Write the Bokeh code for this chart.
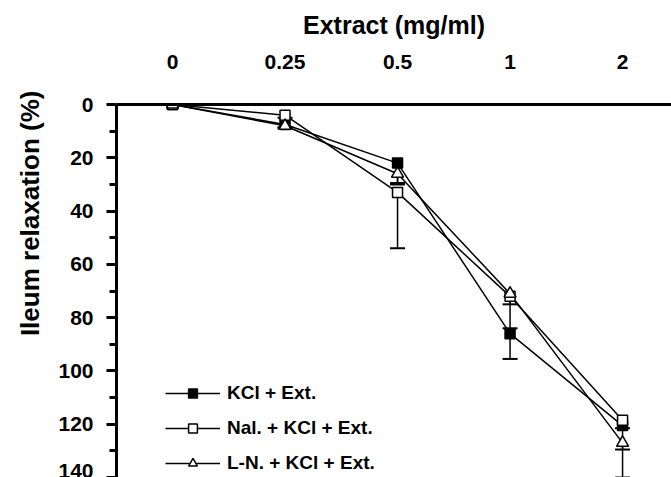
from bokeh.plotting import figure
from bokeh.models import (Range1d, FixedTicker, ColumnDataSource, Whisker, TeeHead,
                          Legend, LegendItem, Title)
from bokeh.embed import file_html
from bokeh.resources import INLINE

# ---- data ----
doses = ["0", "0.25", "0.5", "1", "2"]
kcl = [0, 7.5, 22, 86, 120.5]
kcl_err = [0, 1, 8, 9.5, 9]
nal = [0, 4, 33, 72, 118.5]
nal_err = [0, 1, 21, 3, 3]
ln = [0, 8, 26, 71, 127]
ln_err = [0, 1, 3.5, 13, 13]
y_ticks = [0, 20, 40, 60, 80, 100, 120, 140]

FONT = "Liberation Sans"
xpos = list(range(len(doses)))

x_start, x_end = -0.498, 4.435
p = figure(width=671, height=477, output_backend="svg", toolbar_location=None,
           x_range=Range1d(x_start, x_end), y_range=Range1d(140, 0),
           x_axis_location="above", min_border_left=116, min_border_right=0,
           min_border_top=104, min_border_bottom=0)
p.outline_line_color = None
p.xgrid.visible = False
p.ygrid.visible = False
p.background_fill_color = "white"

# x axis (top)
xa = p.xaxis[0]
xa.ticker = FixedTicker(ticks=xpos)
xa.major_label_overrides = {i: d for i, d in enumerate(doses)}
xa.major_tick_line_color = None
xa.minor_tick_line_color = None
xa.axis_line_width = 3
xa.axis_line_color = "black"
xa.major_label_text_font = FONT
xa.major_label_text_font_style = "bold"
xa.major_label_text_font_size = "21px"
xa.major_label_text_color = "black"
xa.major_label_standoff = 30
xa.axis_label = "Extract (mg/ml)"
xa.axis_label_text_font = FONT
xa.axis_label_text_font_style = "bold"
xa.axis_label_text_font_size = "25px"
xa.axis_label_text_color = "black"
xa.axis_label_standoff = 13

# y axis (left)
ya = p.yaxis[0]
ya.ticker = FixedTicker(ticks=y_ticks, minor_ticks=list(range(10, 140, 20)))
ya.axis_line_width = 3
ya.major_tick_line_width = 3
ya.minor_tick_line_width = 3
ya.major_tick_out = 10
ya.major_tick_in = 0
ya.minor_tick_out = 7
ya.minor_tick_in = 0
ya.major_label_text_font = FONT
ya.major_label_text_font_style = "bold"
ya.major_label_text_font_size = "21px"
ya.major_label_text_color = "black"
ya.major_label_standoff = 13

# y axis title, placed near the top like the reference
ytitle = Title(text="Ileum relaxation (%)", align="right", offset=-14,
               text_font=FONT, text_font_style="bold", text_font_size="26px",
               text_color="black", standoff=22)
p.add_layout(ytitle, "left")

series = [
    ("KCl + Ext.", kcl, kcl_err, "square", "black", 10),
    ("Nal. + KCl + Ext.", nal, nal_err, "square", "white", 10),
    ("L-N. + KCl + Ext.", ln, ln_err, "triangle", "white", 12),
]

# error bars (one-sided)
for name, vals, errs, marker, fill, size in series:
    src = ColumnDataSource(dict(x=xpos, lower=vals,
                                upper=[v + e for v, e in zip(vals, errs)]))
    w = Whisker(source=src, base="x", lower="lower", upper="upper",
                dimension="height", line_color="black", line_width=1.5,
                upper_head=TeeHead(size=15, line_color="black", line_width=2),
                lower_head=None)
    p.add_layout(w)

renders = []
for name, vals, errs, marker, fill, size in series:
    src = ColumnDataSource(dict(x=xpos, y=vals))
    ln_r = p.line("x", "y", source=src, line_color="black", line_width=1.5)
    renders.append((name, ln_r, src, marker, fill, size))

items = []
for name, ln_r, src, marker, fill, size in renders:
    sc = p.scatter("x", "y", source=src, marker=marker, size=size,
                   fill_color=fill, line_color="black", line_width=1.5)
    items.append(LegendItem(label=name, renderers=[ln_r, sc]))

legend = Legend(items=items, location=(49, 3), orientation="vertical",
                glyph_width=55, glyph_height=22, label_height=22, spacing=13,
                padding=0, margin=0, label_standoff=7,
                label_text_font=FONT, label_text_font_style="bold",
                label_text_font_size="19px", label_text_color="black",
                border_line_color=None, background_fill_alpha=0)
p.add_layout(legend, "center")

open("out.html", "w").write(file_html(p, INLINE))
